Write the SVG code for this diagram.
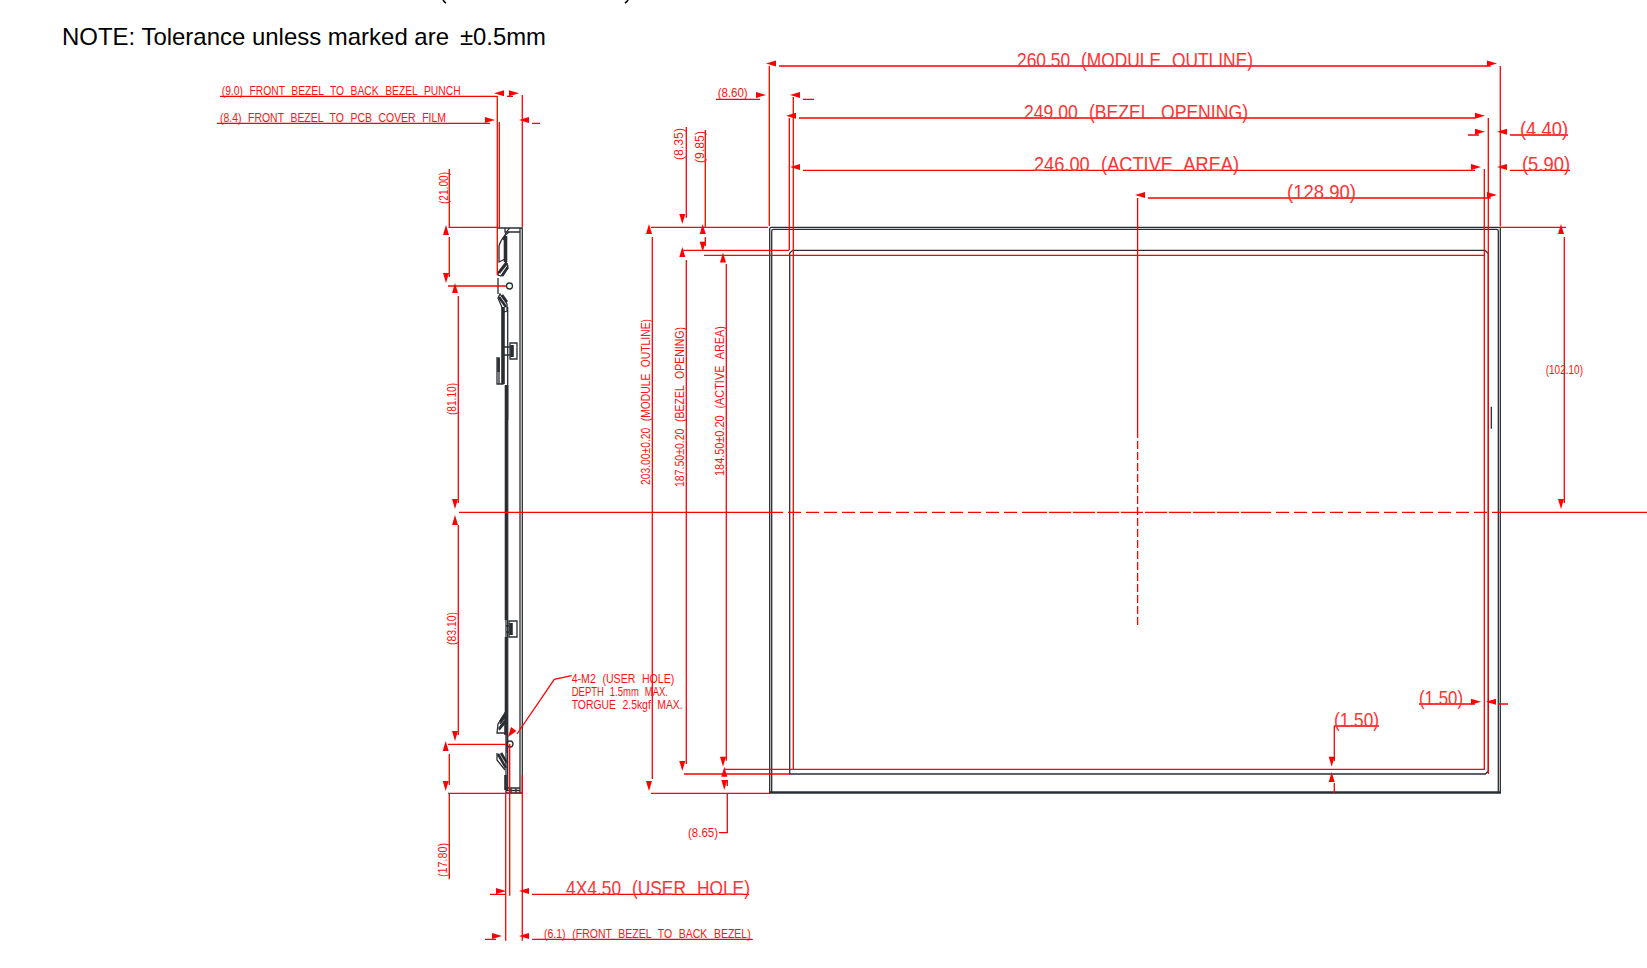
<svg xmlns="http://www.w3.org/2000/svg" width="1647" height="968" viewBox="0 0 1647 968">
<style>
.r{stroke:#f00;stroke-width:1.3;fill:none}
.d{stroke:#2a2e33;stroke-width:1.3;fill:none}
.k{stroke:#2a2e33;stroke-width:2.6;fill:none}
.x{stroke:#2a2e33;stroke-width:3.6;fill:none}
.t{font-family:"Liberation Sans",Arial,sans-serif;fill:#f11;font-size:13.500px;word-spacing:.35em}
.b{font-size:21px;fill:#f33}
.n{font-family:"Liberation Sans",Arial,sans-serif;fill:#000;font-size:24px}
.a{fill:#f00}
</style>
<defs>
<polygon id="R" class="a" points="-10,-3 0,0 -10,3"/>
<polygon id="L" class="a" points="10,-3 0,0 10,3"/>
<polygon id="U" class="a" points="-3,10 0,0 3,10"/>
<polygon id="D" class="a" points="-3,-10 0,0 3,-10"/>
</defs>
<rect width="1647" height="968" fill="#fff"/>
<g id="note">
<path d="M443 0q1 2 3 3M625 3q2-1 3-3" stroke="#000" stroke-width="1.600" fill="none"/>
<text class="n" x="62" y="45" textLength="387" lengthAdjust="spacingAndGlyphs">NOTE: Tolerance unless marked are</text>
<text class="n" x="460" y="45" textLength="86" lengthAdjust="spacingAndGlyphs">±0.5mm</text>
</g>
<g id="front-view">
<path class="d" d="M769.700 793V229q0-1.700 1.700-1.700H1500.300V793"/>
<path class="d" d="M771.700 793V231q0-1.700 1.700-1.700H1496.600q1.700 0 1.700 1.700V793"/>
<path class="k" d="M769 792.500H1501"/>
<path class="d" d="M789.700 774V253l3-2.700H1485l3.300 3.300V771l-3 3Z"/>
<path class="d" d="M1491.300 406.700V428.700" stroke-width="1.500"/>
</g>
<g id="side-view">
<path class="d" d="M497 228H522.300V793H506V385M520 228V793M505 228V232H520M510 228Q506 231 503 240M507.700 307V790"/>
<path class="x" d="M505.500 236V262M503 307V384M506.500 385V420"/>
<path class="k" d="M506 420V620M506 637V712M505.500 775V790"/>
<path class="d" d="M509 232Q501 238 499 246V262L505 259"/>
<path class="k" d="M499 273L507 263M502 276L508 267"/>
<path class="d" d="M498.500 272L506 262L508 266L501 276L498 275ZM498 298L500 294L507 304L507 311L504 312ZM498 278V294"/>
<path class="k" d="M499 297L506 307M502 295L507 302"/>
<circle class="d" cx="509.500" cy="286" r="3"/>
<path class="d" d="M510 343H517V359H510ZM504 347H510M504 355H510"/>
<path class="x" d="M512 345V357"/>
<path class="d" d="M497 357V384H503V357M499 384V357"/>
<path class="k" d="M498.500 358V372"/>
<path class="d" d="M509 621H517V637H509ZM506 626H509M506 632H509"/>
<path class="x" d="M511 623V635"/>
<path class="d" d="M506 712L498 724L497 733H506L507 720ZM500 724L506 716M499 730L506 722"/>
<path class="k" d="M500 722L505 714M499 729L505 721"/>
<path class="k" d="M505.500 712V735"/>
<circle class="d" cx="510" cy="744" r="3"/>
<path class="k" d="M498 754L506 768M501 753L507 763"/>
<path class="d" d="M497 753V760L505 770M507 733V753"/>
<path class="d" d="M506 788H520M506 790.500H520M516 788V793M511 788V793"/>
</g>
<g id="connectors">
<path class="r" d="M769.300 66V226M1500.300 66V226M779 66H1490.700"/>
<path class="r" d="M793.300 97V769.300H1484.300V169M789.300 118V250M1488.300 118V774"/>
<path class="r" d="M793.300 255.300H1484.300M704 255.300H793"/>
<path class="r" d="M799 118H1475M803 170.300H1475M1148 198H1490.700M1137.600 198V430"/>
<path class="r" d="M1137.600 430V626" stroke-dasharray="8 3"/>
<path class="r" d="M716 99.300H760M803 99.300H814M1468 135H1479M1510 135H1568M1510 170.300H1570"/>
<path class="r" d="M1500 227.300H1566M1564.300 237V503"/>
<path class="r" d="M459 512.300H770M1500 512.300H1647"/>
<path class="r" d="M770 512.300H1025M1258 512.300H1500" stroke-dasharray="13 5"/>
<path class="r" d="M1025 512.300H1258" stroke-dasharray="22 2"/>
<path class="r" d="M651 227.300H768M652.300 237V779M651 793.300H770"/>
<path class="r" d="M683 250.300H789M686.300 260V764M684 774H790"/>
<path class="r" d="M726.300 264V760.700M725 769.300H793"/>
<path class="r" d="M686.300 127V217.700M705.300 130V227M705.300 237V246"/>
<path class="r" d="M727.300 780V786M727.300 793V832.700H719"/>
<path class="r" d="M220 96.300H497.300M497.300 96V275M507 96.300H513M217 123.300H490M499.300 122V228M522.300 95V227M532 123.300H540"/>
<path class="r" d="M449.300 169V227.300H497M449.300 237V277M448 286H506M458.300 296V503M458.300 525V735"/>
<path class="r" d="M448 744.300H506M449.300 754V785M448 793.300H522M449.300 793V879.300"/>
<path class="r" d="M505.700 793V940.700M509.700 744V895.700M522.300 775V940.700"/>
<path class="r" d="M490 894.300H506M532 894.300H749M485 939.300H496M532 939.300H752.700"/>
<path class="r" d="M517 734L554.300 679.300L571.700 675.700"/>
<path class="r" d="M1419 704H1475M1498 704H1508M1334 726H1379M1334.300 726V761M1334.300 783V793"/>
<g id="arrowheads">
<use href="#L" x="766" y="63.500"/><use href="#R" x="1497" y="63.500"/>
<use href="#R" x="766" y="95"/><use href="#L" x="790" y="95"/>
<use href="#L" x="786" y="115.700"/><use href="#R" x="1485" y="115.700"/>
<use href="#L" x="790" y="167"/><use href="#R" x="1481" y="167"/>
<use href="#R" x="1485" y="131.700"/><use href="#L" x="1497" y="131.700"/>
<use href="#L" x="1497" y="167"/>
<use href="#R" x="1497" y="195"/><use href="#L" x="1135" y="195"/>
<use href="#U" x="1561" y="224"/><use href="#D" x="1561" y="509"/>
<use href="#U" x="649" y="224"/><use href="#D" x="649" y="791"/>
<use href="#U" x="682.300" y="247"/><use href="#D" x="682.300" y="771"/><use href="#D" x="682.300" y="224"/>
<use href="#U" x="702.700" y="224"/><use href="#D" x="702.700" y="251.700"/>
<use href="#U" x="723" y="252.500"/><use href="#D" x="723" y="766.700"/>
<use href="#U" x="724.300" y="766.700"/><use href="#D" x="724.300" y="790"/>
<use href="#L" x="494" y="93.300"/><use href="#R" x="519" y="93.300"/>
<use href="#R" x="495" y="120"/><use href="#L" x="519" y="120"/>
<use href="#U" x="446" y="225"/><use href="#D" x="446" y="283"/>
<use href="#U" x="455" y="283"/><use href="#D" x="455" y="509"/>
<use href="#U" x="455" y="515"/><use href="#D" x="455" y="741"/>
<use href="#U" x="445.700" y="741"/><use href="#D" x="445.700" y="791"/>
<use href="#R" x="506" y="891"/><use href="#L" x="519" y="891"/>
<use href="#R" x="502" y="936"/><use href="#L" x="519" y="936"/>
<polygon class="a" points="508,737 511,727 516.500,731"/>
<use href="#R" x="1481" y="701.700"/><use href="#L" x="1486" y="701.700"/>
<use href="#D" x="1331.700" y="766.700"/><use href="#U" x="1331.700" y="772"/>
</g>
</g>
<g id="labels">
<text class="t" x="221.700" y="95" textLength="239" lengthAdjust="spacingAndGlyphs">(9.0) FRONT BEZEL TO BACK BEZEL PUNCH</text>
<text class="t" x="220" y="122" textLength="226" lengthAdjust="spacingAndGlyphs">(8.4) FRONT BEZEL TO PCB COVER FILM</text>
<text class="t" x="717.700" y="96.700" textLength="30" lengthAdjust="spacingAndGlyphs">(8.60)</text>
<text class="t b" x="1017" y="67" textLength="236" lengthAdjust="spacingAndGlyphs">260.50 (MODULE OUTLINE)</text>
<text class="t b" x="1024" y="119" textLength="224" lengthAdjust="spacingAndGlyphs">249.00 (BEZEL OPENING)</text>
<text class="t b" x="1034" y="171" textLength="205" lengthAdjust="spacingAndGlyphs">246.00 (ACTIVE AREA)</text>
<text class="t b" x="1287" y="198.500" textLength="69" lengthAdjust="spacingAndGlyphs">(128.90)</text>
<text class="t b" x="1520" y="136" textLength="48" lengthAdjust="spacingAndGlyphs">(4.40)</text>
<text class="t b" x="1522" y="171" textLength="48" lengthAdjust="spacingAndGlyphs">(5.90)</text>
<text class="t" x="1545.700" y="374.300" textLength="37.300" lengthAdjust="spacingAndGlyphs">(102.10)</text>
<text class="t b" x="1419" y="704.500" textLength="44" lengthAdjust="spacingAndGlyphs">(1.50)</text>
<text class="t b" x="1334" y="726.500" textLength="45" lengthAdjust="spacingAndGlyphs">(1.50)</text>
<text class="t" x="688" y="836.700" textLength="30" lengthAdjust="spacingAndGlyphs">(8.65)</text>
<text class="t" x="571.700" y="683.300" textLength="102.600" lengthAdjust="spacingAndGlyphs">4-M2 (USER HOLE)</text>
<text class="t" x="571.700" y="696.300" textLength="96.300" lengthAdjust="spacingAndGlyphs">DEPTH 1.5mm MAX.</text>
<text class="t" x="571.700" y="709.300" textLength="111" lengthAdjust="spacingAndGlyphs">TORGUE 2.5kgf MAX.</text>
<text class="t b" x="566" y="894.500" textLength="184" lengthAdjust="spacingAndGlyphs">4X4.50 (USER HOLE)</text>
<text class="t" x="544" y="938" textLength="206.700" lengthAdjust="spacingAndGlyphs">(6.1) (FRONT BEZEL TO BACK BEZEL)</text>
<text class="t" transform="translate(448 204) rotate(-90)" textLength="32" lengthAdjust="spacingAndGlyphs">(21.00)</text>
<text class="t" transform="translate(455.500 415) rotate(-90)" textLength="32" lengthAdjust="spacingAndGlyphs">(81.10)</text>
<text class="t" transform="translate(455.500 645) rotate(-90)" textLength="33" lengthAdjust="spacingAndGlyphs">(83.10)</text>
<text class="t" transform="translate(447 877) rotate(-90)" textLength="34" lengthAdjust="spacingAndGlyphs">(17.80)</text>
<text class="t" transform="translate(683 160) rotate(-90)" textLength="32" lengthAdjust="spacingAndGlyphs">(8.35)</text>
<text class="t" transform="translate(704 163) rotate(-90)" textLength="32" lengthAdjust="spacingAndGlyphs">(9.85)</text>
<text class="t" transform="translate(649.500 485) rotate(-90)" textLength="166" lengthAdjust="spacingAndGlyphs">203.00±0.20 (MODULE OUTLINE)</text>
<text class="t" transform="translate(683.500 487) rotate(-90)" textLength="160" lengthAdjust="spacingAndGlyphs">187.50±0.20 (BEZEL OPENING)</text>
<text class="t" transform="translate(724 476) rotate(-90)" textLength="150" lengthAdjust="spacingAndGlyphs">184.50±0.20 (ACTIVE AREA)</text>
</g>
</svg>
